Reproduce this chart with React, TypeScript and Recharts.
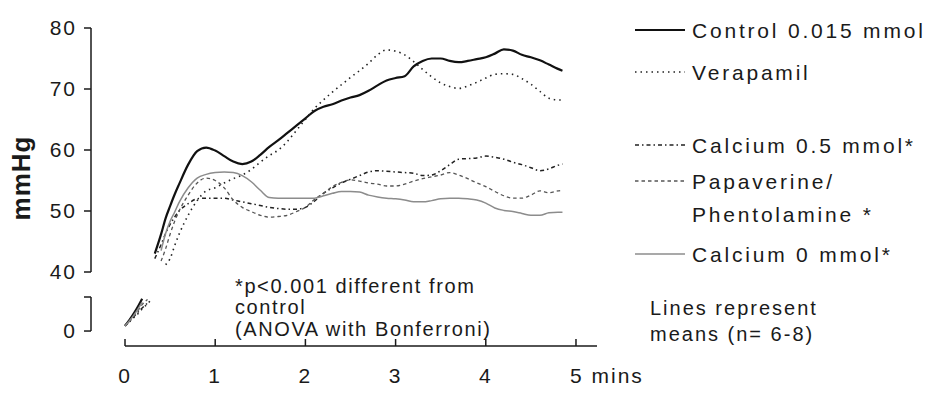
import { LineChart, Line, XAxis, YAxis, ReferenceLine } from 'recharts'

// minutes after start (upper, 40-80 mmHg part of the broken axis)
const TIME = [
  0.33, 0.4, 0.45, 0.5, 0.55, 0.6,
  0.7, 0.8, 0.9, 1.0, 1.1, 1.2, 1.3, 1.4, 1.5, 1.6,
  1.7, 1.8, 1.9, 2.0, 2.1, 2.2, 2.3, 2.4, 2.5, 2.6,
  2.7, 2.8, 2.9, 3.0, 3.1, 3.2, 3.3, 3.4, 3.5, 3.6,
  3.7, 3.8, 3.9, 4.0, 4.1, 4.2, 4.3, 4.4, 4.5, 4.6,
  4.7, 4.8, 4.85,
]

const CONTROL = [
  43, 46.2, 48.8, 50.8, 52.7, 54.4,
  57.6, 59.8, 60.4, 59.9, 59.0, 58.1, 57.7, 58.1, 59.2, 60.5,
  61.6, 62.8, 64.0, 65.2, 66.4, 67.1, 67.5, 68.1, 68.6, 69.0,
  69.7, 70.6, 71.4, 71.8, 72.1, 73.7, 74.6, 75.0, 75.0, 74.6,
  74.4, 74.6, 74.9, 75.2, 75.8, 76.5, 76.3, 75.6, 75.2, 74.7,
  74.0, 73.3, 73.0,
]

const VERAPAMIL = [
  null, null, 41.2, 42.2, 44.3, 46.2,
  49.3, 51.7, 53.3, 53.8, 54.6, 55.3, 55.9, 56.8, 58.0, 59.1,
  60.0, 61.4, 63.2, 65.0, 66.8, 68.2, 69.5, 70.7, 71.9, 73.0,
  74.2, 75.6, 76.4, 76.2, 75.6, 74.5, 73.2, 72.0, 71.0, 70.4,
  70.1, 70.5, 71.1, 71.8, 72.4, 72.5, 72.4, 71.7, 70.8, 69.6,
  68.5, 68.2, 68.2,
]

const CALCIUM_05 = [
  42.2, 44.5, 46.3, 47.8, 49.0, 50.0,
  51.2, 52.0, 52.1, 52.1, 52.1, 51.8, 51.5, 51.2, 50.9, 50.6,
  50.4, 50.3, 50.3, 50.6, 51.6, 52.9, 53.8, 54.6, 55.2, 55.8,
  56.4, 56.6, 56.5, 56.4, 56.3, 56.2, 55.8, 55.9, 56.6, 57.6,
  58.5, 58.6, 58.7, 59.0, 58.8, 58.5, 58.0, 57.6, 57.1, 56.6,
  56.9, 57.5, 57.7,
]

const PAPAVERINE = [
  null, 41.8, 43.8, 46.2, 48.3, 50.0,
  52.6, 54.6, 55.4, 55.0, 53.8, 51.8, 50.6, 49.9, 49.3, 49.0,
  49.1, 49.3, 49.9, 50.6, 51.9, 52.9, 54.0, 54.7, 55.1, 54.9,
  54.6, 54.4, 54.1, 54.1, 54.4, 54.9, 55.3, 55.6, 55.9, 56.3,
  55.9, 55.3, 54.6, 54.0, 53.2, 52.5, 52.1, 52.1, 52.6, 53.3,
  53.0, 53.3, 53.4,
]

const CALCIUM_0 = [
  null, 43.5, 46.3, 48.3, 49.8, 51.4,
  53.8, 55.4, 56.0, 56.3, 56.4, 56.3, 55.8, 54.8, 53.4, 52.2,
  52.1, 52.1, 52.1, 52.1, 52.1, 52.5, 52.9, 53.2, 53.2, 53.1,
  52.6, 52.3, 52.1, 52.0, 51.8, 51.5, 51.5, 51.7, 52.0, 52.1,
  52.1, 52.0, 51.8, 51.3, 50.5, 50.1, 49.9, 49.6, 49.3, 49.3,
  49.7, 49.8, 49.8,
]

// first seconds, drawn on the compressed 0-40 part below the break
const LOW_TIME = [0, 0.05, 0.1, 0.15, 0.19, 0.25, 0.3]
const LOW_CONTROL = [6, 13, 21, 30, 38, null, null]
const LOW_VERAPAMIL = [7, 11, 16, 21, 26, 32, 38]
const LOW_CALCIUM_05 = [6, 11, 17, 23, 27, 33, null]
const LOW_PAPAVERINE = [6, 12, 18, 25, 31, 37, null]
const LOW_CALCIUM_0 = [6, 12, 19, 27, 34, null, null]

const X_TICKS = [0, 1, 2, 3, 4, 5]
const Y_TICKS = [40, 50, 60, 70, 80]

const FONT = '"Liberation Sans", Arial, Helvetica, sans-serif'
const INK = '#1a1a1a'
const W = 933
const X_MIN = -0.377
const X_MAX = 5.233
const LOW_MIN = -17.6

const SERIES = [
  { key: 'control', stroke: '#111', width: 2.2, dash: undefined },
  { key: 'verapamil', stroke: '#222', width: 1.6, dash: '1.5 4' },
  { key: 'ca05', stroke: '#222', width: 1.5, dash: '4 3 1.5 3' },
  { key: 'papav', stroke: '#555', width: 1.3, dash: '3.5 3' },
  { key: 'ca0', stroke: '#8c8c8c', width: 1.5, dash: undefined },
]

const upper = TIME.map((t, i) => ({
  t,
  control: CONTROL[i],
  verapamil: VERAPAMIL[i],
  ca05: CALCIUM_05[i],
  papav: PAPAVERINE[i],
  ca0: CALCIUM_0[i],
}))

const lower = LOW_TIME.map((t, i) => ({
  t,
  control: LOW_CONTROL[i],
  verapamil: LOW_VERAPAMIL[i],
  ca05: LOW_CALCIUM_05[i],
  papav: LOW_PAPAVERINE[i],
  ca0: LOW_CALCIUM_0[i],
}))

const tickStyle = { fontFamily: FONT, fontSize: 21, fill: INK, letterSpacing: 2 }
const legendStyle = { fontFamily: FONT, fontSize: 21, fill: INK, letterSpacing: 2.8 }
const noteStyle = { fontFamily: FONT, fontSize: 20, fill: INK, letterSpacing: 1.8 }

function XTick({ x, y, payload }: any) {
  const v = payload.value
  return (
    <g>
      <line x1={x} x2={x} y1={y} y2={y - 7} stroke={INK} strokeWidth={1.5} />
      <text
        x={v === 5 ? x - 6 : x}
        y={y + 37}
        textAnchor={v === 5 ? 'start' : 'middle'}
        style={tickStyle}
      >
        {v === 5 ? '5 mins' : String(v)}
      </text>
    </g>
  )
}

const LEGEND = [
  { s: 0, lines: ['Control 0.015 mmol'], y: 30 },
  { s: 1, lines: ['Verapamil'], y: 72 },
  { s: 2, lines: ['Calcium 0.5 mmol*'], y: 145 },
  { s: 3, lines: ['Papaverine/', 'Phentolamine *'], y: 181 },
  { s: 4, lines: ['Calcium 0 mmol*'], y: 254 },
]

function Lines() {
  return SERIES.map(s => (
    <Line
      key={s.key}
      dataKey={s.key}
      type="monotone"
      stroke={s.stroke}
      strokeWidth={s.width}
      strokeDasharray={s.dash}
      dot={false}
      activeDot={false}
      connectNulls={false}
      isAnimationActive={false}
    />
  ))
}

export default function App() {
  return (
    <div style={{ position: 'absolute', left: 0, top: 0, width: W, height: 403, background: '#fff' }}>
      <div style={{ position: 'absolute', left: 0, top: 0 }}>
        <LineChart width={W} height={295} data={upper} margin={{ top: 28, right: W - 597, bottom: 23, left: 0 }}>
          <XAxis dataKey="t" type="number" domain={[X_MIN, X_MAX]} allowDataOverflow hide />
          <YAxis
            width={91}
            domain={[40, 80]}
            ticks={Y_TICKS}
            interval={0}
            allowDataOverflow
            axisLine={{ stroke: INK, strokeWidth: 1.5 }}
            tickLine={{ stroke: INK, strokeWidth: 1.5 }}
            tickSize={7}
            tickMargin={7}
            tick={tickStyle}
          />
          {Lines()}
        </LineChart>
      </div>
      <div style={{ position: 'absolute', left: 0, top: 0 }}>
        <LineChart width={W} height={403} data={lower} margin={{ top: 297, right: W - 597, bottom: 0, left: 0 }}>
          <XAxis
            dataKey="t"
            type="number"
            domain={[X_MIN, X_MAX]}
            ticks={X_TICKS}
            interval={0}
            allowDataOverflow
            height={57}
            axisLine={false}
            tickLine={false}
            tickSize={0}
            tickMargin={0}
            tick={<XTick />}
          />
          <YAxis
            width={91}
            domain={[LOW_MIN, 40]}
            ticks={[0, 40]}
            interval={0}
            allowDataOverflow
            axisLine={false}
            tickLine={{ stroke: INK, strokeWidth: 1.5 }}
            tickSize={7}
            tickMargin={7}
            tickFormatter={(v: number) => (v === 0 ? '0' : '')}
            tick={tickStyle}
          />
          <ReferenceLine segment={[{ x: X_MIN, y: 0 }, { x: X_MIN, y: 40 }]} stroke={INK} strokeWidth={1.5} ifOverflow="visible" />
          <ReferenceLine segment={[{ x: 0, y: LOW_MIN }, { x: X_MAX, y: LOW_MIN }]} stroke={INK} strokeWidth={1.5} ifOverflow="visible" />
          {Lines()}
        </LineChart>
      </div>
      <svg width={W} height={403} style={{ position: 'absolute', left: 0, top: 0, pointerEvents: 'none' }}>
        <text
          transform="translate(30,178) rotate(-90)"
          textAnchor="middle"
          style={{ fontFamily: FONT, fontSize: 26, fontWeight: 'bold', fill: INK, letterSpacing: 1 }}
        >
          mmHg
        </text>
        {LEGEND.map(item => {
          const s = SERIES[item.s]
          return (
            <g key={s.key}>
              <line x1={635} x2={685} y1={item.y} y2={item.y} stroke={s.stroke} strokeWidth={s.width} strokeDasharray={s.dash} />
              {item.lines.map((l, i) => (
                <text key={l} x={692} y={item.y + 8 + i * 33} style={legendStyle}>{l}</text>
              ))}
            </g>
          )
        })}
        <text x={650} y={315} style={{ ...noteStyle, letterSpacing: 2 }}>Lines represent</text>
        <text x={650} y={341} style={{ ...noteStyle, letterSpacing: 2 }}>means (n= 6-8)</text>
        <text x={235} y={293} style={{ ...noteStyle, letterSpacing: 1.6 }}>*p&lt;0.001 different from</text>
        <text x={235} y={314} style={{ ...noteStyle, letterSpacing: 1.6 }}>control</text>
        <text x={235} y={336} style={{ ...noteStyle, letterSpacing: 1.6 }}>(ANOVA with Bonferroni)</text>
      </svg>
    </div>
  )
}
